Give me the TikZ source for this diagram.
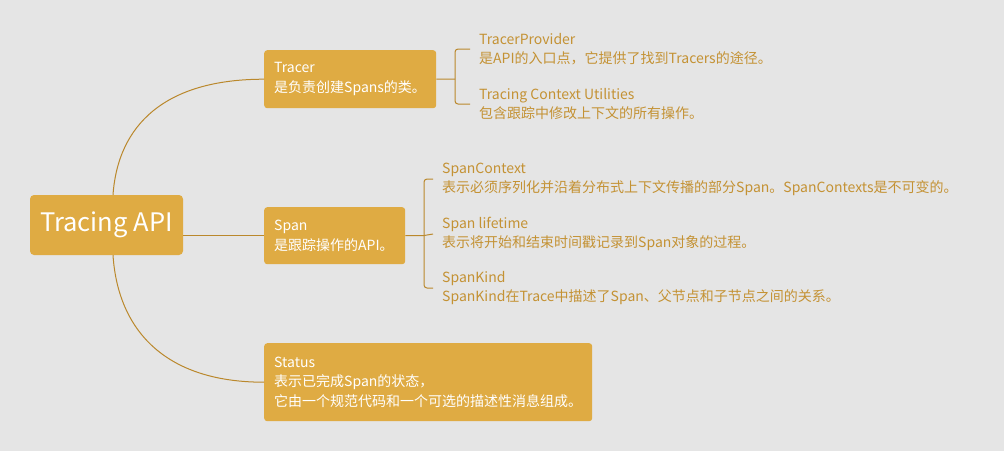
\documentclass[tikz,border=0pt]{standalone}
\usepackage{fontspec}
\setmainfont{Noto Sans CJK SC}
\usepackage{xcolor}
\usepackage{tikz}
\usetikzlibrary{positioning,calc}
\definecolor{mapbg}{RGB}{229,229,229}
\definecolor{mapgold}{RGB}{223,171,67}
\definecolor{mapline}{RGB}{186,136,44}
\definecolor{maptext}{RGB}{196,146,52}

\begin{document}
\begin{tikzpicture}[
  x=1pt,y=-1pt,
  root/.style={fill=mapgold,rounded corners=4pt,text=white,minimum width=153pt,minimum height=60pt,inner sep=0pt,font=\fontsize{25.5}{28}\selectfont},
  topic/.style={fill=mapgold,rounded corners=3pt,text=white,align=left,anchor=north west,inner xsep=10pt,inner ysep=0pt,font=\fontsize{14}{20}\selectfont},
  leaf/.style={text=maptext,align=left,anchor=west,inner xsep=9pt,inner ysep=0pt,font=\fontsize{14}{19}\selectfont},
  link/.style={draw=mapline,line width=1pt},
  fork/.style={link,rounded corners=3pt}
]
\fill[mapbg] (0,0) rectangle (1004,451);
\useasboundingbox (0,0) rectangle (1004,451);

% main topics
\node[root] (api) at (106.5,225) {Tracing API};
\node[topic,text width=152pt,minimum height=58pt] (tracer) at (264,50) {Tracer\\是负责创建Spans的类。};
\node[topic,text width=121pt,minimum height=57pt] (span) at (264,207) {Span\\是跟踪操作的API。};
\node[topic,text width=308pt,minimum height=78pt,font=\fontsize{14}{19.5}\selectfont] (status) at (264,343) {Status\\表示已完成Span的状态，\\它由一个规范代码和一个可选的描述性消息组成。};

% subtopics
\node[leaf] (provider) at (470,49) {TracerProvider\\是API的入口点，它提供了找到Tracers的途径。};
\node[leaf] (utils) at (470,104) {Tracing Context Utilities\\包含跟踪中修改上下文的所有操作。};
\node[leaf] (context) at (433,179) {SpanContext\\表示必须序列化并沿着分布式上下文传播的部分Span。SpanContexts是不可变的。};
\node[leaf] (lifetime) at (433,234) {Span lifetime\\表示将开始和结束时间戳记录到Span对象的过程。};
\node[leaf] (kind) at (433,288) {SpanKind\\SpanKind在Trace中描述了Span、父节点和子节点之间的关系。};

\coordinate (tfork) at (455,79);
\coordinate (sfork) at (424,235.5);

% connectors
\draw[link] ([xshift=6.5pt]api.north) .. controls +(5,-70) and +(-99,0) .. (tracer.west);
\draw[link] ([xshift=6.5pt]api.south) .. controls +(5,75) and +(-99,0) .. (status.west);
\draw[link] (api.east |- span.west) -- (span.west);

\draw[link] (tracer.east) -- (tfork);
\draw[fork] (provider.west) -| (tfork) |- (utils.west);
\draw[link] (span.east) -- (sfork);
\draw[fork] (context.west) -| (sfork) |- (kind.west);
\draw[link] (sfork) -- (lifetime.west);
\end{tikzpicture}
\end{document}
